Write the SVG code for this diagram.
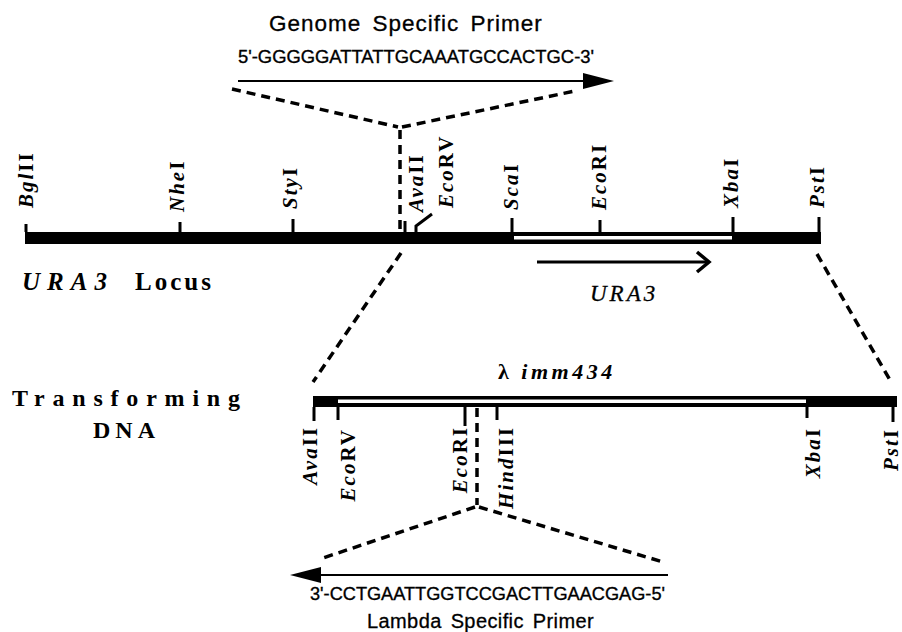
<svg xmlns="http://www.w3.org/2000/svg" width="902" height="632" viewBox="0 0 902 632">
  <style>
    .enz { font-family: "Liberation Serif", serif; font-size: 21px; font-weight: bold; letter-spacing: 2px; fill: #000; }
    .it { font-style: italic; }
    .sans { font-family: "Liberation Sans", Arial, sans-serif; fill: #000; }
    .seq { font-size: 18px; stroke: #000; stroke-width: 0.35; }
    .title { font-size: 22.5px; letter-spacing: 1px; word-spacing: 4px; stroke: #000; stroke-width: 0.3; }
    .tick { stroke: #000; stroke-width: 3; fill: none; }
    .dash { stroke: #000; stroke-width: 3.5; fill: none; stroke-dasharray: 9 6; }
    .serifb { font-family: "Liberation Serif", serif; font-weight: bold; fill: #000; }
  </style>

  <!-- Genome specific primer -->
  <g id="genome-primer">
    <text class="sans title" x="269" y="31">Genome Specific Primer</text>
    <text class="sans seq" x="238" y="63" textLength="356" lengthAdjust="spacingAndGlyphs">5'-GGGGGATTATTGCAAATGCCACTGC-3'</text>
    <line x1="238" y1="81" x2="590" y2="81" stroke="#000" stroke-width="2.2"/>
    <polygon points="583,73 614,81 583,89" fill="#000"/>
  </g>

  <!-- URA3 locus map -->
  <g id="ura3-locus">
    <rect x="25" y="232" width="796" height="12" fill="#000"/>
    <rect x="514" y="236" width="218" height="3.5" fill="#fff"/>
    <line class="tick" x1="26" y1="232" x2="26" y2="224"/>
    <line class="tick" x1="180" y1="232" x2="180" y2="222"/>
    <line class="tick" x1="293" y1="232" x2="293" y2="219"/>
    <line class="tick" x1="405" y1="232" x2="405" y2="221"/>
    <polyline class="tick" points="416,232 416,226 432,214"/>
    <line class="tick" x1="512" y1="232" x2="512" y2="218"/>
    <line class="tick" x1="600" y1="232" x2="600" y2="220"/>
    <line class="tick" x1="733" y1="232" x2="733" y2="217"/>
    <line class="tick" x1="819" y1="232" x2="819" y2="217"/>

    <text class="enz" transform="translate(33,208) rotate(-90)"><tspan class="it">Bgl</tspan>II</text>
    <text class="enz" transform="translate(184,212) rotate(-90)"><tspan class="it">Nhe</tspan>I</text>
    <text class="enz" transform="translate(297,209) rotate(-90)"><tspan class="it">Sty</tspan>I</text>
    <text class="enz" transform="translate(423,212) rotate(-90)"><tspan class="it">Ava</tspan>II</text>
    <text class="enz" transform="translate(453,208) rotate(-90)"><tspan class="it">Eco</tspan>RV</text>
    <text class="enz" transform="translate(518,210) rotate(-90)"><tspan class="it">Sca</tspan>I</text>
    <text class="enz" transform="translate(606,210) rotate(-90)"><tspan class="it">Eco</tspan>RI</text>
    <text class="enz" transform="translate(738,208) rotate(-90)"><tspan class="it">Xba</tspan>I</text>
    <text class="enz" transform="translate(824,208) rotate(-90)"><tspan class="it">Pst</tspan>I</text>

    <text class="serifb" x="22" y="290" font-size="25"><tspan font-style="italic" letter-spacing="7">URA3</tspan><tspan x="135" letter-spacing="3">Locus</tspan></text>
  </g>

  <!-- URA3 gene direction -->
  <g id="ura3-gene">
    <line x1="537" y1="262" x2="708" y2="262" stroke="#000" stroke-width="3"/>
    <polyline points="697,252 709,262 697,272" fill="none" stroke="#000" stroke-width="3.5" stroke-linejoin="miter"/>
    <text x="590" y="301" font-family="Liberation Serif, serif" font-style="italic" font-size="23" letter-spacing="3" stroke="#000" stroke-width="0.3">URA3</text>
  </g>

  <!-- Transforming DNA map -->
  <g id="transforming-dna">
    <text class="serifb" x="12" y="406" font-size="24" letter-spacing="7.8">Transforming</text>
    <text class="serifb" x="93" y="438" font-size="24" letter-spacing="5">DNA</text>
    <text x="498" y="379" font-family="Liberation Serif, serif" font-size="22" font-weight="bold" letter-spacing="3.5">λ <tspan font-style="italic">imm434</tspan></text>

    <rect x="313" y="396" width="584" height="11" fill="#000"/>
    <rect x="338" y="399.5" width="468" height="3.5" fill="#fff"/>
    <line class="tick" x1="314" y1="407" x2="314" y2="421"/>
    <line class="tick" x1="338" y1="407" x2="338" y2="420"/>
    <line class="tick" x1="465" y1="407" x2="465" y2="426"/>
    <line class="tick" x1="497" y1="407" x2="497" y2="420"/>
    <line class="tick" x1="807" y1="407" x2="807" y2="418"/>
    <line class="tick" x1="893" y1="407" x2="893" y2="422"/>

    <text class="enz" text-anchor="end" transform="translate(317,426) rotate(-90)"><tspan class="it">Ava</tspan>II</text>
    <text class="enz" text-anchor="end" transform="translate(355,428) rotate(-90)"><tspan class="it">Eco</tspan>RV</text>
    <text class="enz" text-anchor="end" transform="translate(467,426) rotate(-90)"><tspan class="it">Eco</tspan>RI</text>
    <text class="enz" text-anchor="end" transform="translate(513,426) rotate(-90)"><tspan class="it">Hind</tspan>III</text>
    <text class="enz" text-anchor="end" transform="translate(820,427) rotate(-90)"><tspan class="it">Xba</tspan>I</text>
    <text class="enz" text-anchor="end" transform="translate(898,428) rotate(-90)"><tspan class="it">Pst</tspan>I</text>
  </g>

  <!-- Lambda specific primer -->
  <g id="lambda-primer">
    <line x1="668" y1="575" x2="312" y2="575" stroke="#000" stroke-width="2.2"/>
    <polygon points="290,575 321,567 321,583" fill="#000"/>
    <text class="sans seq" x="310" y="600" textLength="355" lengthAdjust="spacingAndGlyphs">3'-CCTGAATTGGTCCGACTTGAACGAG-5'</text>
    <text class="sans" x="367" y="628" font-size="20" letter-spacing="0.4" word-spacing="3" stroke="#000" stroke-width="0.3">Lambda Specific Primer</text>
  </g>

  <!-- dashed connectors -->
  <g id="connectors">
    <path class="dash" d="M232,89 L398,127"/>
    <path class="dash" d="M402,127 L575,91"/>
    <path class="dash" d="M400,130 L400,232"/>
    <path class="dash" d="M401,253 L313,382"/>
    <path class="dash" d="M817,254 L890,380"/>
    <path class="dash" d="M477,408 L477,505"/>
    <path class="dash" d="M475,507 L323,558"/>
    <path class="dash" d="M479,507 L663,562"/>
  </g>
</svg>
